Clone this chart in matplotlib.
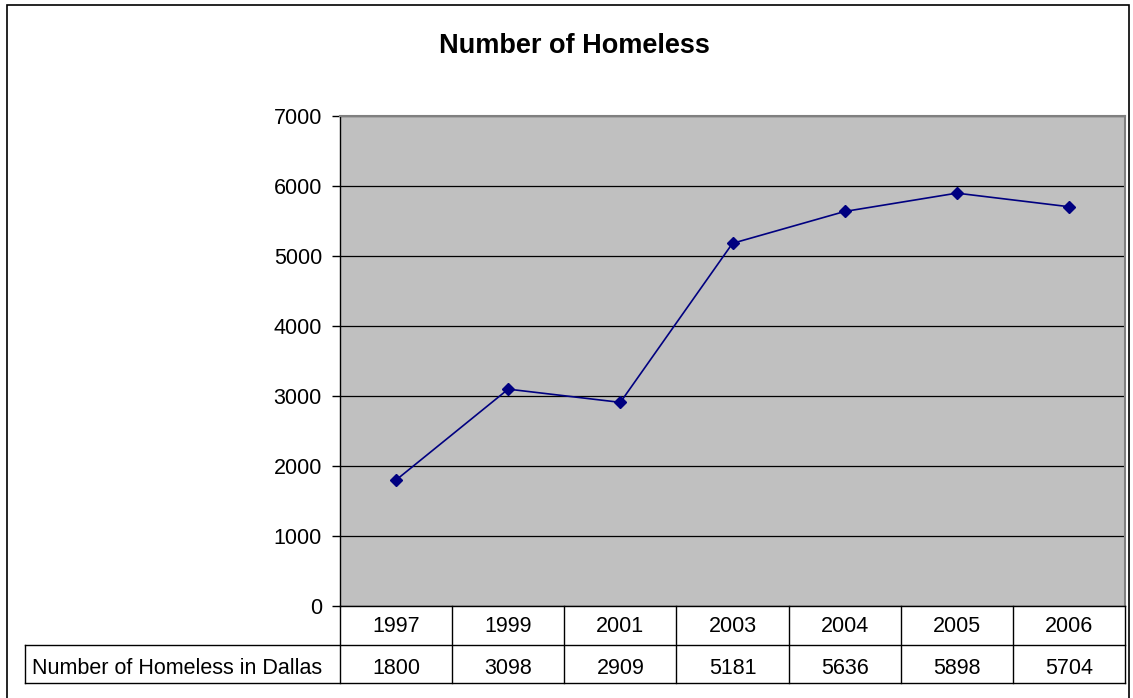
import matplotlib
matplotlib.use("Agg")
import matplotlib.pyplot as plt
from matplotlib.patches import Rectangle
from matplotlib.lines import Line2D

years = ["1997", "1999", "2001", "2003", "2004", "2005", "2006"]
homeless = [1800, 3098, 2909, 5181, 5636, 5898, 5704]
series_name = "Number of Homeless in Dallas"
title = "Number of Homeless"
yticks = [0, 1000, 2000, 3000, 4000, 5000, 6000, 7000]

plt.rcParams['font.family'] = ['Liberation Sans', 'DejaVu Sans']

W, H = 1133, 698
fig = plt.figure(figsize=(W / 100, H / 100), dpi=100)

def fx(px):
    return px / W

def fy(py):
    return 1 - py / H

FS = 15.5

# outer chart border
fig.add_artist(Rectangle((fx(7), fy(710)), fx(1129) - fx(7), fy(5) - fy(710),
                         transform=fig.transFigure, fill=False, edgecolor='black', lw=1.2))

left, right, top, bottom = 340, 1125, 116, 606
ax = fig.add_axes([fx(left), fy(bottom), fx(right) - fx(left), fy(top) - fy(bottom)])
ax.set_facecolor('#C0C0C0')
n = len(years)
x = list(range(n))
ax.set_xlim(-0.5, n - 0.5)
ax.set_ylim(0, 7000)
ax.set_yticks(yticks)
ax.set_yticklabels([str(t) for t in yticks], fontsize=FS)
ax.tick_params(axis='y', direction='out', length=6, width=1, pad=7)
ax.set_xticks([])
ax.grid(axis='y', color='black', lw=0.9)
ax.set_axisbelow(True)
for s in ['top', 'right']:
    ax.spines[s].set_color('#808080')
    ax.spines[s].set_linewidth(1.5)
for s in ['left', 'bottom']:
    ax.spines[s].set_color('black')
    ax.spines[s].set_linewidth(1)

ax.plot(x, homeless, color='#000080', lw=1.2, marker='D', markersize=6,
        markerfacecolor='#000080', markeredgecolor='#000080', zorder=5, clip_on=False)

fig.text(fx(574), fy(53), title, ha='center', va='baseline', fontsize=19.5, fontweight='bold')

# data table
row1_top, row1_bot, row2_bot = 606, 645, 683
label_left = 25
col_w = (right - left) / n
lc = 'black'
lw = 1.0
def hline(y, x0, x1):
    fig.add_artist(Line2D([fx(x0), fx(x1)], [fy(y), fy(y)], transform=fig.transFigure, color=lc, lw=lw))
def vline(xp, y0, y1):
    fig.add_artist(Line2D([fx(xp), fx(xp)], [fy(y0), fy(y1)], transform=fig.transFigure, color=lc, lw=lw))

hline(row1_bot, label_left, right)
hline(row2_bot, label_left, right)
vline(label_left, row1_bot, row2_bot)
for i in range(n + 1):
    vline(left + i * col_w, row1_top, row2_bot)

for i, (yr, v) in enumerate(zip(years, homeless)):
    cx = left + (i + 0.5) * col_w
    fig.text(fx(cx), fy(632), yr, ha='center', va='baseline', fontsize=FS)
    fig.text(fx(cx), fy(674), str(v), ha='center', va='baseline', fontsize=FS)
fig.text(fx(32), fy(674), series_name, ha='left', va='baseline', fontsize=FS)

fig.savefig("out.png", dpi=100)
